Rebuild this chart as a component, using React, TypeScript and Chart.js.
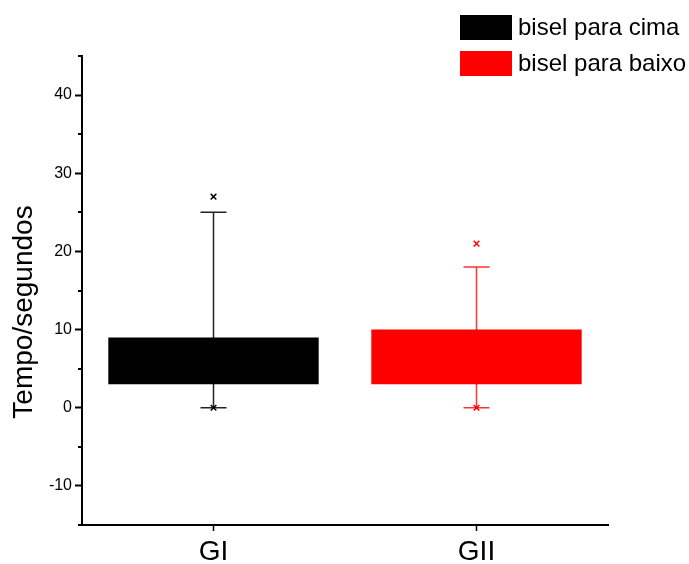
import React, { useEffect, useRef } from "react";
import { Chart, registerables } from "chart.js";

Chart.register(...registerables);

const categories = ["GI", "GII"];
const seriesLabels = ["bisel para cima", "bisel para baixo"];
const seriesColors = ["#000000", "#ff0000"];
const whiskerColors = ["#222222", "#ff3333"];
const boxLow = [3, 3];
const boxHigh = [9, 10];
const whiskerLow = [0, 0];
const whiskerHigh = [25, 18];
const outlierHigh = [27, 21];
const outlierLow = [0, 0];
const yMin = -15;
const yMax = 45;
const yTitle = "Tempo/segundos";

const FONT = "'Liberation Sans', Arial, sans-serif";

const overlayPlugin = {
  id: "overlay",
  beforeDatasetsDraw(chart: any) {
    const { ctx } = chart;
    const x = chart.scales.x;
    const y = chart.scales.y;
    ctx.save();
    categories.forEach((_, i) => {
      const cx = x.getPixelForValue(i);
      const yl = y.getPixelForValue(whiskerLow[i]);
      const yh = y.getPixelForValue(whiskerHigh[i]);
      ctx.strokeStyle = whiskerColors[i];
      ctx.lineWidth = 1.5;
      ctx.beginPath();
      ctx.moveTo(cx, yl);
      ctx.lineTo(cx, yh);
      ctx.moveTo(cx - 13, yh);
      ctx.lineTo(cx + 13, yh);
      ctx.moveTo(cx - 13, yl);
      ctx.lineTo(cx + 13, yl);
      ctx.stroke();
    });
    ctx.restore();
  },
  afterDraw(chart: any) {
    const { ctx } = chart;
    const y = chart.scales.y;
    const left = chart.chartArea.left;
    ctx.save();
    // minor ticks
    ctx.strokeStyle = "#000";
    ctx.lineWidth = 2;
    for (let v = yMin; v <= yMax; v += 5) {
      if (v % 10 !== 0) {
        const py = Math.round(y.getPixelForValue(v)) ;
        ctx.beginPath();
        ctx.moveTo(left - 4, py);
        ctx.lineTo(left, py);
        ctx.stroke();
      }
    }
    // y title
    ctx.fillStyle = "#000";
    ctx.font = `28px ${FONT}`;
    ctx.textAlign = "center";
    ctx.textBaseline = "middle";
    ctx.translate(24, 312);
    ctx.rotate(-Math.PI / 2);
    ctx.fillText(yTitle, 0, 0);
    ctx.restore();
    // legend
    ctx.save();
    ctx.font = `24px ${FONT}`;
    ctx.textAlign = "left";
    ctx.textBaseline = "middle";
    chart.data.datasets
      .filter((d: any) => d.type === "bar")
      .forEach((d: any, i: number) => {
        const top = 15 + i * 36;
        ctx.fillStyle = d.backgroundColor;
        ctx.fillRect(460, top, 52, 25);
        ctx.fillStyle = "#000";
        ctx.fillText(d.label, 518, top + 13);
      });
    ctx.restore();
  },
};

export default function App() {
  const ref = useRef<HTMLCanvasElement>(null);
  useEffect(() => {
    if (!ref.current) return;
    const datasets: any[] = seriesLabels.map((label, s) => ({
      type: "bar",
      label,
      data: categories.map((_, i) => (i === s ? [boxLow[i], boxHigh[i]] : null)),
      backgroundColor: seriesColors[s],
      borderWidth: 0,
      grouped: false,
      barPercentage: 0.8,
      categoryPercentage: 1,
      order: 2,
    }));
    datasets.push({
      type: "line",
      label: "outliers high",
      data: outlierHigh,
      showLine: false,
      pointStyle: "crossRot",
      pointRadius: 4,
      pointBorderWidth: 1.5,
      pointBorderColor: seriesColors,
      pointBackgroundColor: seriesColors,
      order: 1,
    });
    datasets.push({
      type: "line",
      label: "outliers low",
      data: outlierLow,
      showLine: false,
      pointStyle: "crossRot",
      pointRadius: 4,
      pointBorderWidth: 1.5,
      pointBorderColor: seriesColors,
      pointBackgroundColor: seriesColors,
      order: 1,
    });
    const chart = new Chart(ref.current, {
      type: "bar",
      data: { labels: categories, datasets },
      plugins: [overlayPlugin],
      options: {
        animation: false,
        responsive: false,
        layout: { padding: { top: 56, right: 81, bottom: 0, left: 0 } },
        plugins: { legend: { display: false }, tooltip: { enabled: false } },
        scales: {
          x: {
            type: "category",
            offset: true,
            border: { color: "#000", width: 2 },
            grid: {
              offset: false,
              drawOnChartArea: false,
              drawTicks: true,
              tickLength: 6,
              tickColor: "#000",
              tickWidth: 1.5,
            },
            ticks: {
              color: "#000",
              padding: 4,
              font: { family: FONT, size: 28 },
            },
            afterFit: (scale: any) => {
              scale.height = 39;
            },
          },
          y: {
            min: yMin,
            max: yMax,
            border: { color: "#000", width: 2 },
            grid: {
              drawOnChartArea: false,
              drawTicks: true,
              tickLength: 7,
              tickWidth: 2,
              tickColor: (c: any) =>
                c.tick && c.tick.value % 10 === 0 ? "#000" : "rgba(0,0,0,0)",
            },
            ticks: {
              stepSize: 5,
              color: "#000",
              padding: 3,
              font: { family: FONT, size: 16 },
              callback: (v: any) => (Number(v) % 10 === 0 ? String(v) : ""),
            },
            afterFit: (scale: any) => {
              scale.width = 82;
            },
          },
        },
      },
    });
    return () => chart.destroy();
  }, []);
  return (
    <div style={{ position: "fixed", left: 0, top: 0, width: 689, height: 564, background: "#fff" }}>
      <canvas ref={ref} width={689} height={564} style={{ width: 689, height: 564 }} />
    </div>
  );
}
